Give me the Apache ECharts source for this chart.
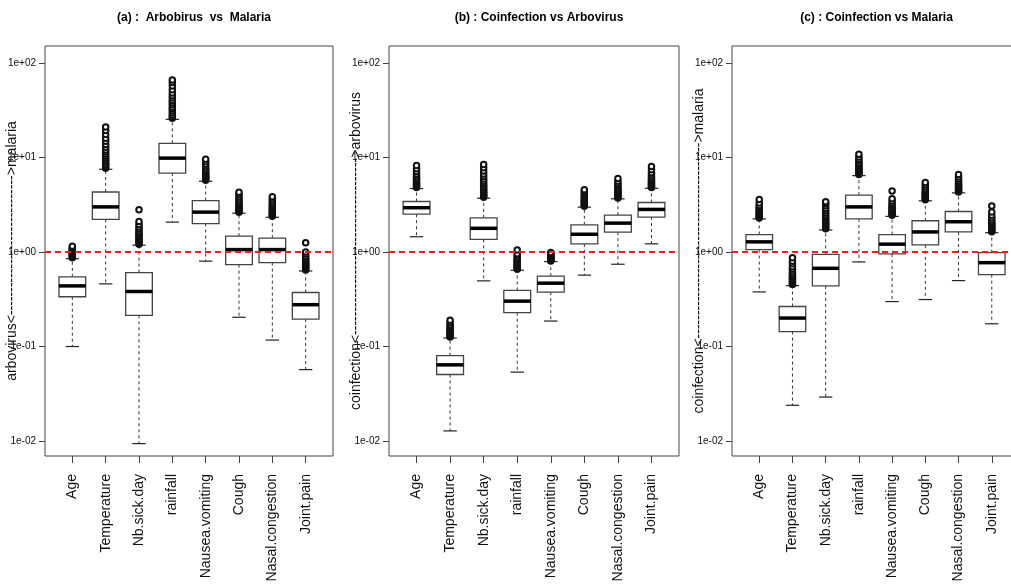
<!DOCTYPE html>
<html>
<head>
<meta charset="utf-8">
<script src="https://cdn.jsdelivr.net/npm/echarts@6/dist/echarts.min.js"></script>
<style>
html,body{margin:0;padding:0;background:#fff;}
#chart{width:1011px;height:588px;}
</style>
</head>
<body>
<div id="chart"></div>
<script>
// ---- categories & tick labels ----
const categories = ['Age','Temperature','Nb.sick.day','rainfall','Nausea.vomiting','Cough','Nasal.congestion','Joint.pain'];
const yTickValues = [0.01, 0.1, 1, 10, 100];
const titles = ['(a) :  Arbobirus  vs  Malaria', '(b) : Coinfection vs Arbovirus', '(c) : Coinfection vs Malaria'];
const yNames = [
  'arbovirus<------------------------------>malaria',
  'coinfection<-------------------------------------->arbovirus',
  'coinfection<------------------------------------------>malaria'
];

// ---- box statistics per category: [lower whisker, Q1, median, Q3, upper whisker] ----
const statsA = [
  [0.10, 0.336, 0.438, 0.546, 0.85],
  [0.46, 2.21, 3.0, 4.31, 7.5],
  [0.0094, 0.214, 0.382, 0.605, 1.18],
  [2.07, 6.84, 9.84, 14.1, 25.3],
  [0.80, 2.0, 2.64, 3.5, 5.6],
  [0.204, 0.735, 1.06, 1.47, 2.57],
  [0.117, 0.772, 1.06, 1.40, 2.33],
  [0.057, 0.195, 0.277, 0.373, 0.63]
];
const statsB = [
  [1.45, 2.51, 2.94, 3.42, 4.69],
  [0.0128, 0.0506, 0.064, 0.080, 0.123],
  [0.495, 1.36, 1.78, 2.30, 3.71],
  [0.0536, 0.228, 0.302, 0.392, 0.641],
  [0.186, 0.376, 0.468, 0.555, 0.792],
  [0.569, 1.22, 1.54, 1.94, 2.98],
  [0.742, 1.62, 2.02, 2.45, 3.65],
  [1.22, 2.34, 2.82, 3.34, 4.72]
];
const statsC = [
  [0.378, 1.06, 1.28, 1.53, 2.24],
  [0.0239, 0.144, 0.2, 0.265, 0.441],
  [0.0292, 0.438, 0.672, 0.944, 1.71],
  [0.785, 2.24, 3.0, 3.99, 6.43],
  [0.299, 0.953, 1.21, 1.53, 2.38],
  [0.314, 1.19, 1.63, 2.14, 3.48],
  [0.498, 1.63, 2.09, 2.68, 4.22],
  [0.174, 0.576, 0.771, 0.984, 1.6]
];

// ---- outliers per category ----
const outliersA = [
  [0.87,0.89,0.91,0.93,0.95,0.97,0.99,1.01,1.03,1.05,1.08,1.11,1.15],
  [7.7,8.0,8.3,8.6,9.0,9.4,9.8,10.3,10.8,11.4,12.0,12.8,13.7,14.8,16.0,17.5,19.3,21.0],
  [1.21,1.25,1.29,1.33,1.38,1.43,1.48,1.54,1.6,1.67,1.75,1.84,1.95,2.1,2.8],
  [26,27,28,29.5,31,32.5,34,36,38,40,42.5,45,48,52,57,62,66],
  [5.75,5.9,6.05,6.2,6.4,6.6,6.8,7.0,7.3,7.6,8.0,8.5,9.0,9.6],
  [2.63,2.7,2.77,2.85,2.93,3.02,3.12,3.22,3.34,3.48,3.65,3.85,4.05,4.28],
  [2.39,2.45,2.52,2.59,2.67,2.75,2.84,2.94,3.05,3.18,3.32,3.48,3.66,3.85],
  [0.645,0.66,0.675,0.69,0.71,0.73,0.75,0.77,0.8,0.83,0.86,0.9,0.95,1.0,1.25]
];
const outliersB = [
  [4.8,4.92,5.05,5.2,5.35,5.5,5.7,5.9,6.1,6.4,6.7,7.1,7.6,8.2],
  [0.126,0.129,0.132,0.135,0.139,0.143,0.147,0.152,0.157,0.163,0.17,0.179,0.19],
  [3.8,3.9,4.0,4.12,4.25,4.4,4.55,4.72,4.9,5.1,5.35,5.6,5.9,6.3,6.7,7.2,7.8,8.4],
  [0.655,0.67,0.685,0.7,0.72,0.74,0.76,0.78,0.81,0.84,0.87,0.91,0.96,1.05],
  [0.805,0.82,0.835,0.85,0.865,0.88,0.9,0.92,0.94,0.965,0.99],
  [3.05,3.12,3.2,3.28,3.37,3.46,3.56,3.67,3.79,3.92,4.06,4.22,4.4,4.55],
  [3.73,3.82,3.92,4.02,4.13,4.25,4.38,4.52,4.68,4.86,5.07,5.3,5.6,6.0],
  [4.82,4.93,5.05,5.18,5.32,5.47,5.63,5.8,6.0,6.25,6.55,6.9,7.4,8.0]
];
const outliersC = [
  [2.29,2.34,2.4,2.46,2.53,2.6,2.68,2.77,2.87,2.98,3.1,3.3,3.6],
  [0.452,0.464,0.477,0.49,0.505,0.52,0.537,0.555,0.575,0.6,0.63,0.66,0.7,0.75,0.8,0.87],
  [1.76,1.82,1.88,1.95,2.02,2.1,2.18,2.27,2.37,2.48,2.6,2.74,2.9,3.08,3.25,3.4],
  [6.6,6.78,6.97,7.17,7.38,7.6,7.85,8.1,8.4,8.75,9.15,9.6,10.1,10.8],
  [2.44,2.5,2.57,2.64,2.72,2.8,2.9,3.0,3.12,3.26,3.45,3.65,4.43],
  [3.56,3.64,3.72,3.81,3.9,4.0,4.1,4.22,4.35,4.5,4.68,4.9,5.15,5.42],
  [4.31,4.4,4.5,4.6,4.71,4.83,4.96,5.1,5.26,5.44,5.65,5.9,6.2,6.6],
  [1.64,1.68,1.72,1.77,1.82,1.88,1.94,2.01,2.09,2.18,2.3,2.45,2.65,3.06]
];
const referenceLine = 1;

const panels = [
  {stats: statsA, out: outliersA, left: 45, width: 288},
  {stats: statsB, out: outliersB, left: 389, width: 290},
  {stats: statsC, out: outliersC, left: 732, width: 287}
];

const X_MIN = 0.18, X_MAX = 8.82;
const Y_MIN = 0.00695, Y_MAX = 151;

function fmtExp(v){
  const e = Math.round(Math.log10(v));
  return '1e' + (e < 0 ? '-' : '+') + String(Math.abs(e)).padStart(2, '0');
}

function renderBox(params, api){
  const x = api.value(0);
  const lo = api.coord([x, api.value(1)]);
  const q1 = api.coord([x, api.value(2)]);
  const md = api.coord([x, api.value(3)]);
  const q3 = api.coord([x, api.value(4)]);
  const hi = api.coord([x, api.value(5)]);
  const xl = api.coord([x - 0.4, api.value(3)])[0];
  const xr = api.coord([x + 0.4, api.value(3)])[0];
  const cl = api.coord([x - 0.2, api.value(3)])[0];
  const cr = api.coord([x + 0.2, api.value(3)])[0];
  const cx = md[0];
  return {
    type: 'group',
    children: [
      {type: 'line', shape: {x1: cx, y1: q3[1], x2: cx, y2: hi[1]}, style: {stroke: '#333', lineWidth: 1, lineDash: [3, 3]}},
      {type: 'line', shape: {x1: cx, y1: q1[1], x2: cx, y2: lo[1]}, style: {stroke: '#333', lineWidth: 1, lineDash: [3, 3]}},
      {type: 'line', shape: {x1: cl, y1: hi[1], x2: cr, y2: hi[1]}, style: {stroke: '#222', lineWidth: 1.2, lineDash: null}},
      {type: 'line', shape: {x1: cl, y1: lo[1], x2: cr, y2: lo[1]}, style: {stroke: '#222', lineWidth: 1.2, lineDash: null}},
      {type: 'rect', shape: {x: xl, y: q3[1], width: xr - xl, height: q1[1] - q3[1]},
        style: {fill: '#fff', stroke: '#444', lineWidth: 1.3}},
      {type: 'line', shape: {x1: xl, y1: md[1], x2: xr, y2: md[1]}, style: {stroke: '#000', lineWidth: 3.5}}
    ]
  };
}

const grid = [], xAxis = [], yAxis = [], series = [], title = [];
panels.forEach((p, i) => {
  grid.push({left: p.left, width: p.width, top: 46, bottom: 132, show: true,
    borderColor: '#444', borderWidth: 1, backgroundColor: 'transparent',
    containLabel: false, outerBoundsMode: 'none'});
  title.push({text: titles[i], left: p.left + p.width / 2 - (i === 2 ? 4 : 0), top: 7, textAlign: 'center',
    textStyle: {fontFamily: '"Liberation Sans Narrow", "Liberation Sans", Arial', fontWeight: 'bold', fontSize: 12, color: '#000'}});
  xAxis.push({
    type: 'value', gridIndex: i, min: X_MIN, max: X_MAX,
    axisLine: {show: false},
    splitLine: {show: false},
    axisTick: {show: true, length: 7, lineStyle: {color: '#444'}, customValues: [1,2,3,4,5,6,7,8]},
    axisLabel: {show: true, rotate: 90, margin: 18, fontSize: 14, color: '#111',
      fontFamily: '"Liberation Sans", Arial',
      customValues: [1,2,3,4,5,6,7,8],
      formatter: v => categories[Math.round(v) - 1]}
  });
  yAxis.push({
    type: 'log', logBase: 10, gridIndex: i, min: Y_MIN, max: Y_MAX,
    name: yNames[i], nameLocation: 'middle', nameGap: 26, nameMoveOverlap: false,
    nameTextStyle: {fontSize: 14, color: '#111', fontFamily: '"Liberation Sans", Arial'},
    axisLine: {show: false},
    splitLine: {show: false},
    minorTick: {show: false},
    axisTick: {show: true, length: 6, lineStyle: {color: '#444'}, customValues: yTickValues},
    axisLabel: {show: true, margin: 9, fontSize: 10, color: '#111',
      fontFamily: '"Liberation Sans Narrow", "Liberation Sans", Arial',
      customValues: yTickValues, formatter: fmtExp}
  });
  const boxData = p.stats.map((s, k) => [k + 1].concat(s));
  series.push({
    type: 'custom', xAxisIndex: i, yAxisIndex: i, z: 2,
    renderItem: renderBox,
    encode: {x: 0, y: [1, 2, 3, 4, 5]},
    data: boxData
  });
  const outData = [];
  p.out.forEach((arr, k) => arr.forEach(v => outData.push([k + 1, v])));
  series.push({
    type: 'scatter', xAxisIndex: i, yAxisIndex: i, z: 4,
    symbol: 'emptyCircle', symbolSize: 5.5,
    itemStyle: {color: '#111', borderColor: '#111', borderWidth: 1, opacity: 1},
    data: outData,
    markLine: {
      silent: true, symbol: ['none', 'none'], label: {show: false},
      lineStyle: {color: '#ff1a1a', type: [6, 4], width: 2},
      data: [{yAxis: referenceLine}]
    }
  });
});

const chart = echarts.init(document.getElementById('chart'), null, {renderer: 'canvas'});
chart.setOption({animation: false, backgroundColor: '#fff', title, grid, xAxis, yAxis, series});
</script>
</body>
</html>
